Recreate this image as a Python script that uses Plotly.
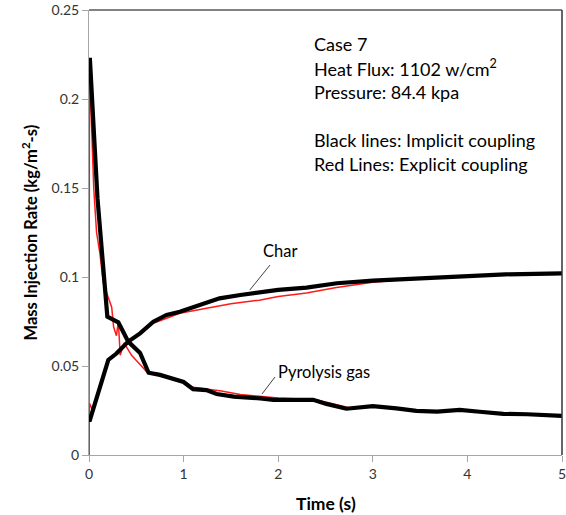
import plotly.graph_objects as go

# Implicit coupling (black)
pyro_black_t = [0, 0.01, 0.09, 0.187, 0.194, 0.31, 0.415, 0.54, 0.63, 0.75, 0.91, 1.0, 1.1, 1.24, 1.35, 1.53, 1.81,
                1.95, 2.37, 2.51, 2.72, 3.0, 3.25, 3.46, 3.68, 3.92, 4.13, 4.38, 4.63, 5.0]
pyro_black_v = [0.222, 0.222, 0.144, 0.087, 0.0777, 0.0745, 0.0637, 0.0573, 0.0462, 0.045, 0.0428, 0.041, 0.037,
                0.0365, 0.0343, 0.0328, 0.0318, 0.031, 0.031, 0.0287, 0.026, 0.0275, 0.0262, 0.0248, 0.0244,
                0.0253, 0.0243, 0.0231, 0.0229, 0.022]
char_black_t = [0, 0.01, 0.204, 0.29, 0.415, 0.54, 0.68, 0.82, 0.96, 1.17, 1.38, 1.6, 1.81, 2.0, 2.3, 2.62, 3.0,
                3.22, 3.6, 3.92, 4.4, 5.0]
char_black_v = [0.0197, 0.0197, 0.0534, 0.057, 0.0637, 0.0683, 0.0749, 0.0787, 0.0805, 0.0843, 0.088, 0.0899,
                0.0915, 0.0928, 0.094, 0.0965, 0.098, 0.0985, 0.0995, 0.1006, 0.1015, 0.102]

# Explicit coupling (red)
pyro_red_t = [0, 0.005, 0.05, 0.08, 0.116, 0.15, 0.2, 0.24, 0.26, 0.29, 0.31, 0.33, 0.37, 0.45, 0.52, 0.61, 0.75,
              0.9, 1.0, 1.1, 1.25, 1.4, 1.6, 1.8, 2.0, 2.4, 2.6, 2.75, 3.0, 3.25, 3.5, 3.7, 3.9, 4.1, 4.4, 4.7, 5.0]
pyro_red_v = [0.0, 0.219, 0.15, 0.125, 0.113, 0.097, 0.089, 0.083, 0.072, 0.067, 0.075, 0.056, 0.063, 0.056,
              0.052, 0.0468, 0.0455, 0.043, 0.041, 0.038, 0.037, 0.036, 0.034, 0.033, 0.032, 0.031, 0.0285,
              0.0265, 0.027, 0.0265, 0.025, 0.0245, 0.025, 0.0245, 0.023, 0.0225, 0.0215]
char_red_t = [0, 0.005, 0.04, 0.08, 0.116, 0.15, 0.22, 0.33, 0.4, 0.54, 0.68, 0.96, 1.2, 1.5, 1.8, 2.0, 2.3,
              2.6, 3.0, 3.3, 3.6, 4.0, 4.5, 5.0]
char_red_v = [0.0, 0.029, 0.025, 0.033, 0.038, 0.044, 0.0545, 0.058, 0.063, 0.068, 0.074, 0.0796, 0.082, 0.085,
              0.087, 0.089, 0.091, 0.094, 0.097, 0.0985, 0.0995, 0.1005, 0.1013, 0.1015]

x_ticks = [0, 1, 2, 3, 4, 5]
y_ticks = [0, 0.05, 0.1, 0.15, 0.2, 0.25]
y_tick_labels = ["0", "0.05", "0.1", "0.15", "0.2", "0.25"]

info_lines = ["Case 7", "Heat Flux: 1102 w/cm<sup>2</sup>", "Pressure: 84.4 kpa",
              "Black lines: Implicit coupling", "Red Lines: Explicit coupling"]
info_y = [0.2308, 0.2174, 0.2039, 0.177, 0.1635]

FONT = "Lato, Carlito, Calibri, sans-serif"

fig = go.Figure()
fig.add_trace(go.Scatter(x=pyro_red_t, y=pyro_red_v, mode="lines",
                         line=dict(color="#ff1a1a", width=1.5), showlegend=False))
fig.add_trace(go.Scatter(x=char_red_t, y=char_red_v, mode="lines",
                         line=dict(color="#ff1a1a", width=1.5), showlegend=False))
fig.add_trace(go.Scatter(x=pyro_black_t, y=pyro_black_v, mode="lines",
                         line=dict(color="black", width=4.2), showlegend=False))
fig.add_trace(go.Scatter(x=char_black_t, y=char_black_v, mode="lines",
                         line=dict(color="black", width=4.2), showlegend=False))

annotations = []
for txt, yy in zip(info_lines, info_y):
    annotations.append(dict(x=2.355, y=yy, xref="x", yref="y", text=txt, showarrow=False,
                            xanchor="left", yanchor="middle",
                            font=dict(family=FONT, size=18, color="black")))
annotations.append(dict(x=2.02, y=0.1146, xref="x", yref="y", text="Char", showarrow=False,
                        xanchor="center", yanchor="middle", font=dict(family=FONT, size=16.5, color="black")))
annotations.append(dict(x=2.48, y=0.0466, xref="x", yref="y", text="Pyrolysis gas", showarrow=False,
                        xanchor="center", yanchor="middle", font=dict(family=FONT, size=16.5, color="black")))
annotations.append(dict(x=0.5, y=0, xref="paper", yref="paper", text="<b>Time (s)</b>", showarrow=False,
                        xanchor="center", yanchor="middle", yshift=-48,
                        font=dict(family=FONT, size=17.5, color="black")))
annotations.append(dict(x=0, y=0.5, xref="paper", yref="paper",
                        text="<b>Mass Injection Rate (kg/m<sup>2</sup>-s)</b>", showarrow=False,
                        textangle=-90, xanchor="center", yanchor="middle", xshift=-59,
                        font=dict(family=FONT, size=16.5, color="black")))

shapes = [
    dict(type="line", xref="x", yref="y", x0=1.913, y0=0.1067, x1=1.70, y1=0.0927,
         line=dict(color="#404040", width=1)),
    dict(type="line", xref="x", yref="y", x0=1.966, y0=0.0438, x1=1.829, y1=0.0343,
         line=dict(color="#404040", width=1)),
    dict(type="line", xref="paper", yref="paper", x0=0, y0=1, x1=1, y1=1,
         line=dict(color="#595959", width=1.5)),
    dict(type="line", xref="paper", yref="paper", x0=1, y0=0, x1=1, y1=1,
         line=dict(color="#333333", width=1.5)),
]

fig.update_layout(
    width=566, height=515,
    margin=dict(l=89, r=4, t=10, b=60, autoexpand=False),
    paper_bgcolor="white", plot_bgcolor="white",
    font=dict(family=FONT, size=14, color="#333333"),
    annotations=annotations, shapes=shapes,
    xaxis=dict(range=[0, 5], tickvals=x_ticks, showgrid=False, zeroline=False,
               showline=True, linecolor="#a6a6a6", linewidth=1, automargin=False,
               ticks="outside", ticklen=6, tickcolor="#a6a6a6",
               ticklabeloverflow="allow",
               tickfont=dict(family=FONT, size=14, color="#333333")),
    yaxis=dict(range=[0, 0.25], tickvals=y_ticks, ticktext=y_tick_labels, showgrid=False,
               zeroline=False, showline=True, linecolor="#a6a6a6", linewidth=1, automargin=False,
               ticks="outside", ticklen=6, tickcolor="#a6a6a6",
               tickfont=dict(family=FONT, size=14, color="#333333")),
)

fig.write_html("out.html")
